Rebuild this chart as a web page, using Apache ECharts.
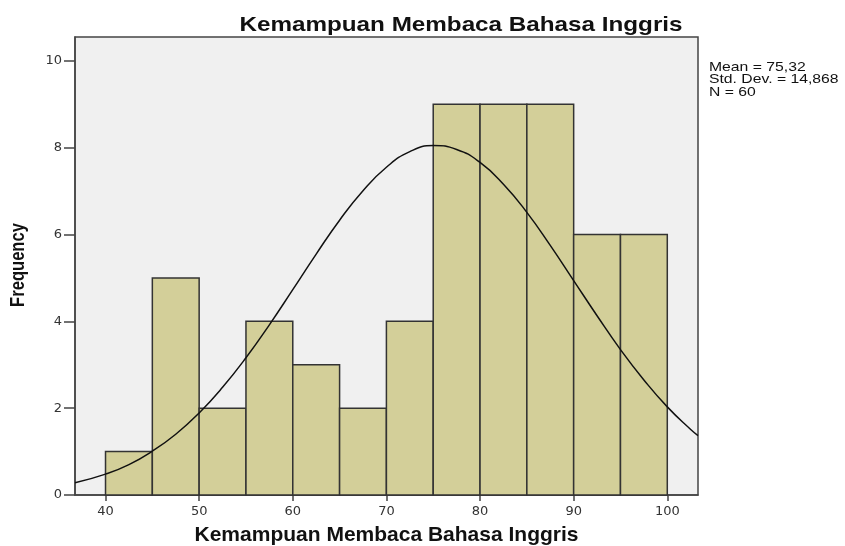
<!DOCTYPE html>
<html>
<head>
<meta charset="utf-8">
<script src="https://cdn.jsdelivr.net/npm/echarts@6/dist/echarts.min.js"></script>
<style>
  html, body { margin: 0; padding: 0; background: #fff; }
  #chart { width: 845px; height: 546px; }
</style>
</head>
<body>
<div id="chart"></div>
<script>
// histogram bins (start of each 5-wide bin) and frequencies
const binStarts = [40, 45, 50, 55, 60, 65, 70, 75, 80, 85, 90, 95]
const binWidth = 5
const counts = [1, 5, 2, 4, 3, 2, 4, 9, 9, 9, 6, 6]

// normal curve points
const curveX = [36.74, 40, 42.5, 45, 47.5, 50, 52.5, 55, 57.5, 60, 62.5, 65, 67.5, 70, 72.5, 75, 77.5, 80, 82.5, 85, 87.5, 90, 92.5, 95, 97.5, 100, 102.5, 103.28]
const curveY = [0.28, 0.48, 0.70, 1.01, 1.40, 1.89, 2.48, 3.16, 3.92, 4.73, 5.55, 6.33, 7.01, 7.55, 7.91, 8.05, 7.96, 7.66, 7.16, 6.51, 5.75, 4.94, 4.13, 3.35, 2.65, 2.03, 1.51, 1.37]

const xTicks = [40, 50, 60, 70, 80, 90, 100]
const yTicks = [0, 2, 4, 6, 8, 10]

const titleText = 'Kemampuan Membaca Bahasa Inggris'
const xName = 'Kemampuan Membaca Bahasa Inggris'
const yName = 'Frequency'
const statsLines = ['Mean = 75,32', 'Std. Dev. = 14,868', 'N = 60']

const chart = echarts.init(document.getElementById('chart'))

const axisColor = '#444'
const labelColor = '#333'
const sans = 'Liberation Sans, Arial, sans-serif'

const option = {
  animation: false,
  graphic: [
    {
      type: 'text',
      x: 461,
      y: 25,
      scaleX: 1.154,
      style: {
        text: titleText,
        align: 'center',
        verticalAlign: 'middle',
        font: 'bold 21px ' + sans,
        fill: '#111'
      }
    },
    {
      type: 'text',
      x: 19,
      y: 265,
      rotation: Math.PI / 2,
      scaleX: 0.85,
      style: {
        text: yName,
        align: 'center',
        verticalAlign: 'middle',
        font: 'bold 19.5px ' + sans,
        fill: '#111'
      }
    },
    {
      type: 'text',
      x: 709,
      y: 61,
      scaleX: 1.21,
      style: {
        text: statsLines.join('\n'),
        font: '13px ' + sans,
        lineHeight: 12.5,
        verticalAlign: 'top',
        fill: '#111'
      }
    }
  ],
  grid: {
    left: 75,
    right: 147,
    top: 37,
    bottom: 51,
    outerBoundsMode: 'none',
    containLabel: false,
    show: true,
    backgroundColor: '#f0f0f0',
    borderColor: axisColor,
    borderWidth: 1.5
  },
  xAxis: {
    type: 'value',
    min: 36.74,
    max: 103.28,
    name: xName,
    nameLocation: 'middle',
    nameGap: 30,
    nameTextStyle: {
      fontFamily: sans,
      fontSize: 21,
      fontWeight: 'bold',
      color: '#111'
    },
    axisLine: { show: true, lineStyle: { color: axisColor, width: 1.5 } },
    axisTick: { show: true, length: 6, customValues: xTicks, lineStyle: { color: axisColor, width: 1.5 } },
    axisLabel: {
      customValues: xTicks,
      color: labelColor,
      fontFamily: 'DejaVu Sans, sans-serif',
      fontSize: 13,
      margin: 10
    },
    splitLine: { show: false }
  },
  yAxis: {
    type: 'value',
    min: 0,
    max: 10.55,
    axisLine: { show: true, lineStyle: { color: axisColor, width: 1.5 } },
    axisTick: { show: true, length: 11, customValues: yTicks, lineStyle: { color: axisColor, width: 1.5 } },
    axisLabel: {
      customValues: yTicks,
      color: labelColor,
      fontFamily: 'DejaVu Sans, sans-serif',
      fontSize: 13,
      margin: 13
    },
    splitLine: { show: false }
  },
  series: [
    {
      type: 'custom',
      data: binStarts.map((s, i) => [s, s + binWidth, counts[i]]),
      renderItem: (params, api) => {
        const p0 = api.coord([api.value(0), api.value(2)])
        const p1 = api.coord([api.value(1), 0])
        return {
          type: 'rect',
          shape: { x: p0[0], y: p0[1], width: p1[0] - p0[0], height: p1[1] - p0[1] },
          style: { fill: '#d3cf99', stroke: '#333', lineWidth: 1.5 }
        }
      },
      z: 2
    },
    {
      type: 'line',
      data: curveX.map((x, i) => [x, curveY[i]]),
      smooth: 0.5,
      showSymbol: false,
      lineStyle: { color: '#111', width: 1.5 },
      z: 3
    }
  ]
}

chart.setOption(option)
</script>
</body>
</html>
